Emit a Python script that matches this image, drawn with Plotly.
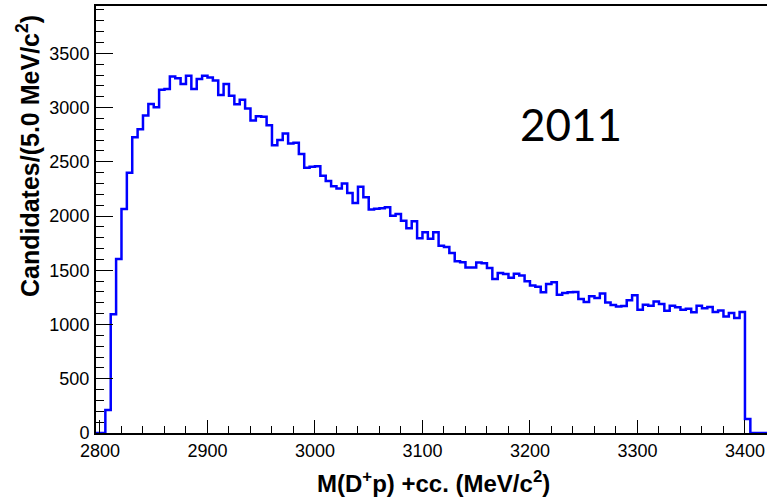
import plotly.graph_objects as go

# ---- data -------------------------------------------------------------
bin_start = 2795.0          # lower edge of first bin (MeV/c^2)
bin_width = 5.0             # MeV/c^2
counts = [
    0, 0, 212, 1095, 1605, 2065, 2398, 2726, 2800, 2927,
    3033, 3003, 3163, 3172, 3286, 3271, 3216, 3293, 3170, 3262,
    3293, 3278, 3250, 3116, 3216, 3108, 3030, 3071, 2992, 2880,
    2920, 2915, 2837, 2653, 2700, 2761, 2668, 2675, 2572, 2445,
    2455, 2460, 2372, 2322, 2274, 2253, 2300, 2212, 2119, 2270,
    2172, 2061, 2067, 2072, 2081, 2003, 2018, 1957, 1888, 1953,
    1795, 1851, 1790, 1851, 1725, 1715, 1660, 1583, 1574, 1525,
    1525, 1572, 1565, 1522, 1420, 1476, 1466, 1430, 1469, 1451,
    1398, 1359, 1347, 1297, 1374, 1389, 1275, 1291, 1297, 1300,
    1236, 1208, 1260, 1245, 1285, 1204, 1180, 1167, 1170, 1223,
    1269, 1137, 1183, 1174, 1213, 1189, 1128, 1174, 1158, 1137,
    1146, 1112, 1174, 1149, 1162, 1115, 1130, 1075, 1106, 1060,
    1115, 130, 0, 0, 0, 0,
]
x_tick_values = [2800, 2900, 3000, 3100, 3200, 3300, 3400]
y_tick_values = [0, 500, 1000, 1500, 2000, 2500, 3000, 3500]
x_title = "M(D<sup>+</sup>p) +cc. (MeV/c<sup>2</sup>)"
y_title = "Candidates/(5.0 MeV/c<sup>2</sup>)"
year_label = "2011"

# ---- build step outline ----------------------------------------------
edges = [bin_start + i * bin_width for i in range(len(counts) + 1)]
heights = counts + [counts[-1]]

fig = go.Figure(
    go.Scatter(
        x=edges, y=heights, mode="lines",
        line=dict(color="#0000ff", width=2.5, shape="hv"),
        hoverinfo="skip", showlegend=False,
    )
)

L, R, T, B = 96, 0, 6, 70
W, H = 767, 503
pw, ph = W - L - R, H - T - B

def px_x(p):
    return (p - L) / pw

def px_y(p):
    return (H - B - p) / ph

tickfont = dict(family="Liberation Sans, Arial, sans-serif", size=18, color="black")

fig.update_layout(
    width=W, height=H,
    margin=dict(l=L, r=R, t=T, b=B, pad=0),
    paper_bgcolor="white", plot_bgcolor="white",
    xaxis=dict(
        range=[2796.3, 3420.5], showgrid=False, zeroline=False,
        showline=True, linecolor="black", linewidth=2, mirror=True,
        ticks="inside", ticklen=13, tickwidth=1, tickcolor="black",
        tickvals=x_tick_values, ticktext=[str(v) for v in x_tick_values],
        minor=dict(dtick=20, tick0=2800, ticks="inside", ticklen=7,
                   tickwidth=1, tickcolor="black", showgrid=False),
        tickfont=tickfont, ticklabelstandoff=0,
    ),
    yaxis=dict(
        range=[0, 3936], showgrid=False, zeroline=False,
        showline=True, linecolor="black", linewidth=2, mirror=False,
        ticks="inside", ticklen=17, tickwidth=1, tickcolor="black",
        tickvals=y_tick_values, ticktext=[str(v) for v in y_tick_values],
        minor=dict(dtick=100, tick0=0, ticks="inside", ticklen=8,
                   tickwidth=1, tickcolor="black", showgrid=False),
        tickfont=tickfont, ticklabelstandoff=1,
    ),
    annotations=[
        dict(text=y_title, xref="paper", yref="paper",
             x=px_x(28), y=px_y(156), textangle=-90, showarrow=False,
             xanchor="center", yanchor="middle",
             font=dict(family="Liberation Sans, Arial, sans-serif", size=25,
                       color="black", weight="bold")),
        dict(text=x_title, xref="paper", yref="paper",
             x=px_x(433), y=px_y(482), showarrow=False,
             xanchor="center", yanchor="middle",
             font=dict(family="Liberation Sans Narrow, Arial Narrow, Liberation Sans, sans-serif",
                       size=24, color="black", weight="bold")),
        dict(text=year_label, xref="paper", yref="paper",
             x=px_x(571), y=px_y(124), showarrow=False,
             xanchor="center", yanchor="middle",
             font=dict(family="Lato, Open Sans, sans-serif", size=44, color="black")),
    ],
)

fig.write_html("out.html")
